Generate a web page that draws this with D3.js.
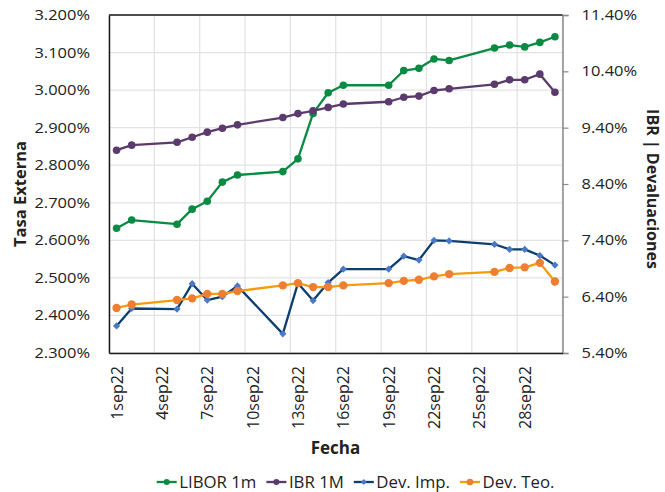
<!DOCTYPE html>
<html>
<head>
<meta charset="utf-8">
<script src="https://cdn.jsdelivr.net/npm/d3@7"></script>
<style>
  body { margin: 0; background: #fff; }
  text { font-family: "Open Sans", "Noto Sans", sans-serif; fill: #222; }
</style>
</head>
<body>
<div id="chart"></div>
<script>
// Series (rates in %)
var fechas = ["2022-09-01","2022-09-02","2022-09-05","2022-09-06","2022-09-07","2022-09-08","2022-09-09",
  "2022-09-12","2022-09-13","2022-09-14","2022-09-15","2022-09-16","2022-09-19","2022-09-20","2022-09-21",
  "2022-09-22","2022-09-23","2022-09-26","2022-09-27","2022-09-28","2022-09-29","2022-09-30"]
var libor1m = [2.632,2.654,2.643,2.683,2.704,2.755,2.774,2.783,2.817,2.938,2.993,3.013,3.013,3.052,3.058,3.083,3.079,3.112,3.120,3.115,3.127,3.142]
var ibr1M = [9.00,9.09,9.14,9.23,9.32,9.39,9.45,9.58,9.65,9.70,9.76,9.82,9.86,9.94,9.96,10.06,10.09,10.17,10.25,10.25,10.35,10.03]
var devImp = [5.88,6.19,6.18,6.63,6.34,6.40,6.59,5.74,6.64,6.33,6.65,6.89,6.89,7.12,7.05,7.40,7.39,7.33,7.24,7.24,7.13,6.96]
var devTeo = [6.20,6.26,6.34,6.37,6.45,6.45,6.50,6.60,6.64,6.57,6.57,6.60,6.64,6.68,6.70,6.76,6.80,6.84,6.91,6.92,7.00,6.67]

var xTickDates = ["2022-09-01","2022-09-04","2022-09-07","2022-09-10","2022-09-13","2022-09-16","2022-09-19","2022-09-22","2022-09-25","2022-09-28"]
var xTickLabels = ["1sep22","4sep22","7sep22","10sep22","13sep22","16sep22","19sep22","22sep22","25sep22","28sep22"]
var leftTicks = [2.3,2.4,2.5,2.6,2.7,2.8,2.9,3.0,3.1,3.2]
var rightTicks = [5.4,6.4,7.4,8.4,9.4,10.4,11.4]

var seriesNames = ["LIBOR 1m","IBR 1M","Dev. Imp.","Dev. Teo."]

///////////////////////////////////////////////////////////////////////////
//////////////////////////// Set up the svg ///////////////////////////////
///////////////////////////////////////////////////////////////////////////

var width = 665,
	height = 492
var plot = {left: 109, top: 15, right: 562.5, bottom: 353}

const svg = d3.select("#chart").append("svg")
	.attr("width", width)
	.attr("height", height)

var day = 864e5
var parse = s => new Date(Date.parse(s + "T00:00:00Z"))
var mid = s => new Date(parse(s).getTime() + day / 2)

var x = d3.scaleUtc()
	.domain([parse("2022-09-01"), parse("2022-10-01")])
	.range([plot.left, plot.right])

var yL = d3.scaleLinear().domain([2.3, 3.2]).range([plot.bottom, plot.top])
var yR = d3.scaleLinear().domain([5.4, 11.4]).range([plot.bottom, plot.top])

//Gridlines
var grid = svg.append("g")
grid.selectAll(".gy")
	.data(leftTicks)
	.enter().append("line")
	.attr("x1", plot.left).attr("x2", plot.right)
	.attr("y1", d => yL(d)).attr("y2", d => yL(d))
	.attr("stroke", "#e3e3e3").attr("stroke-width", 1.3)
grid.selectAll(".gx")
	.data(d3.range(0, 31, 3))
	.enter().append("line")
	.attr("x1", d => x(new Date(parse("2022-09-01").getTime() + d * day)))
	.attr("x2", d => x(new Date(parse("2022-09-01").getTime() + d * day)))
	.attr("y1", plot.top).attr("y2", plot.bottom)
	.attr("stroke", "#e3e3e3").attr("stroke-width", 1.3)

//Axes
var axL = svg.append("g")
	.attr("transform", `translate(${plot.left},0)`)
	.call(d3.axisLeft(yL).tickValues(leftTicks).tickSize(0).tickPadding(19).tickFormat(d => d3.format(".3f")(d) + "%"))
axL.select(".domain").attr("stroke", "#1a1a1a").attr("stroke-width", 1.5)

var axR = svg.append("g")
	.attr("transform", `translate(${plot.right},0)`)
	.call(d3.axisRight(yR).tickValues(rightTicks).tickSize(6).tickPadding(13).tickFormat(d => d3.format(".2f")(d) + "%"))
axR.select(".domain").attr("stroke", "#8a8a8a").attr("stroke-width", 1.5)
axR.selectAll(".tick line").attr("stroke", "#8a8a8a").attr("stroke-width", 1.2)

svg.selectAll(".tick text").style("font-size", "14.2px").attr("fill", "#222")
svg.selectAll(".tick text").each(function() {
	var w = this.getComputedTextLength()
	d3.select(this).attr("textLength", w * 1.16).attr("lengthAdjust", "spacingAndGlyphs")
})

//top and bottom frame
svg.append("line").attr("x1", plot.left).attr("x2", plot.right).attr("y1", plot.top).attr("y2", plot.top)
	.attr("stroke", "#1a1a1a").attr("stroke-width", 1.5)
var axB = svg.append("g")
	.attr("transform", `translate(0,${plot.bottom})`)
	.call(d3.axisBottom(x).tickValues(xTickDates.map(mid)).tickSize(0).tickFormat((d, i) => xTickLabels[i]))
axB.select(".domain").attr("stroke", "#1a1a1a").attr("stroke-width", 1.5)
axB.selectAll(".tick text")
	.attr("transform", "rotate(-90)")
	.attr("text-anchor", "end")
	.attr("x", -13).attr("y", 0).attr("dy", "0.35em")
	.style("font-size", "16px").attr("fill", "#222")

//Axis titles
svg.append("text").attr("transform", "translate(26,194) rotate(-90)")
	.attr("text-anchor", "middle").style("font-size", "16.5px").style("font-weight", "bold").text("Tasa Externa")
svg.append("text").attr("transform", "translate(647,189) rotate(90)")
	.attr("text-anchor", "middle").style("font-size", "16px").style("font-weight", "bold").text("IBR | Devaluaciones")
svg.append("text").attr("x", 335.5).attr("y", 454)
	.attr("text-anchor", "middle").style("font-size", "17px").style("font-weight", "bold").text("Fecha")

///////////////////////////////////////////////////////////////////////////
/////////////////////////////// Series ////////////////////////////////////
///////////////////////////////////////////////////////////////////////////

var series = [
	{name: seriesNames[0], values: libor1m, y: yL, line: "#0a8a43", fill: "#0a8a43", shape: "circle", r: 3.8},
	{name: seriesNames[1], values: ibr1M, y: yR, line: "#5b3a6e", fill: "#5b3a6e", shape: "circle", r: 3.8},
	{name: seriesNames[2], values: devImp, y: yR, line: "#0d3f6e", fill: "#4a78c8", shape: "diamond", r: 3.6},
	{name: seriesNames[3], values: devTeo, y: yR, line: "#f59b0c", fill: "#ee7f30", shape: "circle", r: 4.2}
]

function drawMarker(sel, s) {
	if (s.shape === "circle") {
		sel.append("circle").attr("r", s.r).attr("fill", s.fill)
	} else {
		sel.append("path").attr("d", `M0,${-s.r}L${s.r},0L0,${s.r}L${-s.r},0Z`).attr("fill", s.fill)
	}
}

series.forEach(function(s) {
	var pts = fechas.map((f, i) => [x(mid(f)), s.y(s.values[i])])
	svg.append("path")
		.attr("d", d3.line()(pts))
		.attr("fill", "none")
		.attr("stroke", s.line)
		.attr("stroke-width", 2.3)
		.attr("stroke-linejoin", "round")
	svg.append("g").selectAll("g")
		.data(pts)
		.enter().append("g")
		.attr("transform", d => `translate(${d[0]},${d[1]})`)
		.each(function() { drawMarker(d3.select(this), s) })
})

///////////////////////////////////////////////////////////////////////////
/////////////////////////////// Legend ////////////////////////////////////
///////////////////////////////////////////////////////////////////////////

var lx = 156.7, ly = 482
series.forEach(function(s) {
	var g = svg.append("g").attr("transform", `translate(${lx},${ly})`)
	g.append("line").attr("x1", 0).attr("x2", 20).attr("stroke", s.line).attr("stroke-width", 2.3)
	drawMarker(g.append("g").attr("transform", "translate(10,0)"), {shape: s.shape, fill: s.fill, r: s.r * 0.8})
	var t = g.append("text").attr("x", 22.5).attr("dy", "0.35em").style("font-size", "16.8px").text(s.name)
	lx += 22.5 + t.node().getComputedTextLength() + 10
})
</script>
</body>
</html>
